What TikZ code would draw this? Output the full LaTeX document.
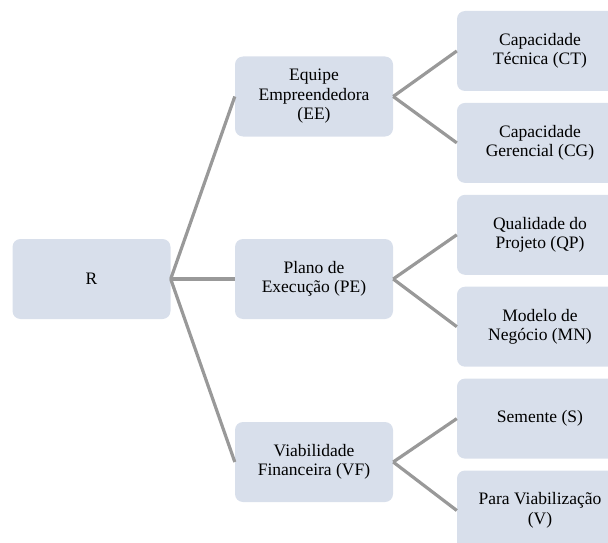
\documentclass[tikz,border=0pt]{standalone}
\usepackage{fontspec}
\setmainfont{Liberation Serif}
\usetikzlibrary{positioning}
\definecolor{BoxBlue}{RGB}{216,223,235}
\definecolor{LinkGray}{RGB}{153,153,153}
\tikzset{
  box/.style={fill=BoxBlue,rounded corners=8pt,minimum width=158pt,minimum height=80pt,align=center,inner sep=2pt,font=\fontsize{17.5}{19.5}\selectfont},
  link/.style={draw=LinkGray,line width=3.2pt},
}

\begin{document}
\begin{tikzpicture}[x=1pt,y=1pt,
       leaf/.style={box,minimum width=166pt}]
      \path[use as bounding box,clip] (0,0) rectangle (608,-543);
      \node[box] (r) at (91.5,-279) {R};
      \node[box] (ee) at (314,-96.5) {Equipe\\Empreendedora\\(EE)};
      \node[box] (pe) at (314,-279) {Plano de\\Execução (PE)};
      \node[box] (vf) at (314,-462) {Viabilidade\\Financeira (VF)};
      \node[leaf] (ct) at (540,-51) {Capacidade\\Técnica (CT)};
      \node[leaf,below=11.5pt of ct] (cg) {Capacidade\\Gerencial (CG)};
      \node[leaf,below=11.5pt of cg] (qp) {Qualidade do\\Projeto (QP)};
      \node[leaf,below=11.5pt of qp] (mn) {Modelo de\\Negócio (MN)};
      \node[leaf,below=11.5pt of mn] (s) {Semente (S)};
      \node[leaf,below=11.5pt of s] (v) {Para Viabilização\\(V)};
      \foreach \m in {ee,pe,vf} { \draw[link] (r.east) -- (\m.west); }
      \draw[link] (ee.east) -- (ct.west); \draw[link] (ee.east) -- (cg.west);
      \draw[link] (pe.east) -- (qp.west); \draw[link] (pe.east) -- (mn.west);
      \draw[link] (vf.east) -- (s.west);  \draw[link] (vf.east) -- (v.west);
    \end{tikzpicture}
\end{document}
